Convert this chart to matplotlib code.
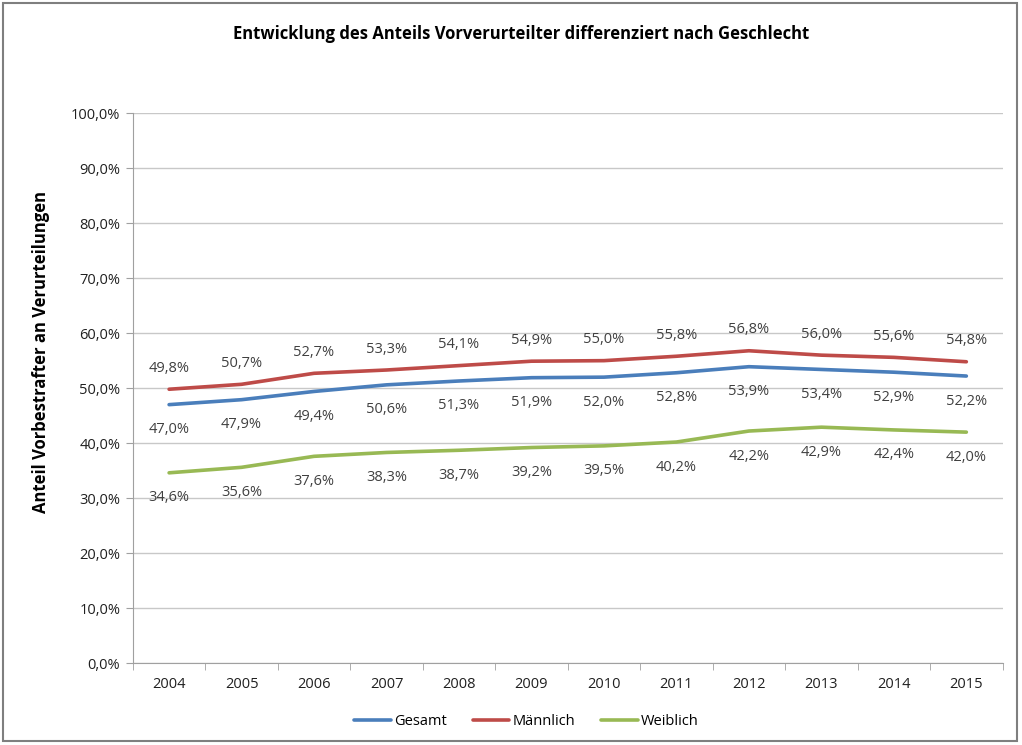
import matplotlib
matplotlib.use("Agg")
import matplotlib.pyplot as plt
from matplotlib.patches import Rectangle
from matplotlib.ticker import FixedLocator, FuncFormatter

years = ["2004", "2005", "2006", "2007", "2008", "2009", "2010", "2011", "2012", "2013", "2014", "2015"]
gesamt = [47.0, 47.9, 49.4, 50.6, 51.3, 51.9, 52.0, 52.8, 53.9, 53.4, 52.9, 52.2]
maennlich = [49.8, 50.7, 52.7, 53.3, 54.1, 54.9, 55.0, 55.8, 56.8, 56.0, 55.6, 54.8]
weiblich = [34.6, 35.6, 37.6, 38.3, 38.7, 39.2, 39.5, 40.2, 42.2, 42.9, 42.4, 42.0]
yticks = [0, 10, 20, 30, 40, 50, 60, 70, 80, 90, 100]

plt.rcParams['font.family'] = ['Open Sans', 'DejaVu Sans']

fig = plt.figure(figsize=(10.22, 7.45), dpi=100)
ax = fig.add_axes([0.130, 0.110, 0.851, 0.738])

x = list(range(len(years)))
c_g, c_m, c_w = "#4A7EBB", "#BE4B48", "#98B954"
ax.plot(x, gesamt, color=c_g, lw=2.6, label="Gesamt", solid_capstyle="round")
ax.plot(x, maennlich, color=c_m, lw=2.6, label="Männlich", solid_capstyle="round")
ax.plot(x, weiblich, color=c_w, lw=2.6, label="Weiblich", solid_capstyle="round")

def fmt(v):
    return f"{v:.1f}%".replace(".", ",")

lab_col = "#404040"
for i in x:
    ax.annotate(fmt(maennlich[i]), (i, maennlich[i]), xytext=(0, 15), textcoords="offset points",
                ha="center", va="center", fontsize=10.5, color=lab_col)
    ax.annotate(fmt(gesamt[i]), (i, gesamt[i]), xytext=(0, -18), textcoords="offset points",
                ha="center", va="center", fontsize=10.5, color=lab_col)
    ax.annotate(fmt(weiblich[i]), (i, weiblich[i]), xytext=(0, -18), textcoords="offset points",
                ha="center", va="center", fontsize=10.5, color=lab_col)

ax.set_xlim(-0.5, len(years) - 0.5)
ax.set_ylim(0, 100)
ax.set_yticks(yticks)
ax.yaxis.set_major_formatter(FuncFormatter(lambda v, p: fmt(v)))
ax.set_xticks(x)
ax.set_xticklabels(years)
ax.xaxis.set_minor_locator(FixedLocator([i - 0.5 for i in range(len(years) + 1)]))
ax.tick_params(axis="x", which="major", length=0, pad=10, labelsize=10.5, labelcolor="#202020")
ax.tick_params(axis="x", which="minor", length=5, color="#A0A0A0")
ax.tick_params(axis="y", length=5, color="#A0A0A0", labelsize=10.5, labelcolor="#202020", pad=4)
ax.grid(axis="y", color="#C8C8C8", lw=1)
ax.set_axisbelow(True)
for s in ["top", "right"]:
    ax.spines[s].set_visible(False)
for s in ["left", "bottom"]:
    ax.spines[s].set_color("#A0A0A0")

ax.set_ylabel("Anteil Vorbestrafter an Verurteilungen", fontsize=12, fontweight="bold")
ax.yaxis.set_label_coords(-0.095, 0.565)
fig.text(0.51, 0.955, "Entwicklung des Anteils Vorverurteilter differenziert nach Geschlecht",
         ha="center", va="center", fontsize=12, fontweight="bold")

fig.legend(loc="center", bbox_to_anchor=(0.515, 0.032), ncol=3, frameon=False, fontsize=10.5,
           handlelength=2.5, handletextpad=0.2, columnspacing=1.8)

fig.patches.append(Rectangle((0.003, 0.006), 0.992, 0.99, transform=fig.transFigure,
                             fill=False, edgecolor="#7F7F7F", lw=1.5))

fig.savefig("out.png", dpi=100)
